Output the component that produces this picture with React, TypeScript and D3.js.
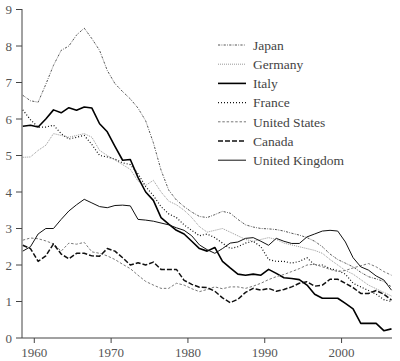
import React from "react";
import * as d3 from "d3";

const years: number[] = d3.range(1958, 2007);

const japan = [6.65,6.5,6.46,6.95,7.47,7.88,8.0,8.3,8.49,8.2,7.88,7.33,6.97,6.75,6.55,6.3,5.95,5.35,4.6,4.05,3.78,3.6,3.45,3.33,3.3,3.38,3.47,3.42,3.25,3.1,3.04,3.0,2.99,2.97,2.93,2.87,2.82,2.75,2.65,2.5,2.3,2.15,2.05,1.95,1.8,1.68,1.62,1.55,1.4];
const germany = [4.95,4.96,5.14,5.28,5.6,5.55,5.5,5.55,5.6,5.5,5.14,5.0,4.88,4.75,4.62,4.3,4.18,4.32,4.0,3.75,3.65,3.5,3.3,3.05,2.9,2.95,3.0,2.9,2.8,2.7,2.65,2.7,2.75,2.7,2.6,2.55,2.5,2.45,2.4,2.32,2.15,2.0,1.85,1.75,1.6,1.45,1.35,1.25,1.15];
const italy = [5.8,5.83,5.78,6.0,6.25,6.17,6.31,6.24,6.33,6.3,5.87,5.65,5.25,4.87,4.89,4.4,4.0,3.77,3.3,3.12,2.95,2.85,2.65,2.45,2.38,2.48,2.1,1.92,1.75,1.72,1.75,1.72,1.88,1.77,1.65,1.63,1.6,1.45,1.2,1.09,1.09,1.09,0.95,0.8,0.4,0.4,0.4,0.2,0.25];
const france = [6.25,5.98,5.78,5.78,5.83,5.6,5.45,5.5,5.55,5.3,5.0,4.96,4.9,4.8,4.75,4.5,4.15,3.9,3.6,3.4,3.3,3.1,2.95,2.8,2.85,2.75,2.6,2.45,2.5,2.6,2.65,2.5,2.15,2.1,2.1,2.05,2.1,2.2,2.0,2.0,1.9,1.85,1.75,1.5,1.4,1.3,1.2,1.05,1.0];
const unitedStates = [2.68,2.74,2.72,2.66,2.58,2.38,2.6,2.57,2.62,2.36,2.32,2.25,2.15,2.02,1.9,1.72,1.55,1.45,1.36,1.36,1.5,1.45,1.35,1.27,1.33,1.4,1.35,1.4,1.4,1.36,1.42,1.5,1.6,1.68,1.74,1.82,1.9,2.0,2.02,1.95,1.88,1.82,1.85,1.92,1.98,2.04,1.95,1.82,1.72];
const canada = [2.54,2.45,2.1,2.25,2.58,2.3,2.17,2.32,2.32,2.25,2.24,2.45,2.38,2.2,2.0,2.06,2.0,2.08,1.88,1.88,1.88,1.58,1.47,1.39,1.38,1.28,1.1,0.97,1.06,1.25,1.36,1.31,1.36,1.28,1.33,1.4,1.5,1.54,1.42,1.45,1.61,1.61,1.5,1.38,1.22,1.22,1.3,1.2,1.04];
const unitedKingdom = [2.38,2.5,2.85,3.0,3.0,3.25,3.48,3.65,3.8,3.7,3.6,3.57,3.63,3.64,3.62,3.25,3.23,3.2,3.15,3.1,3.02,2.95,2.8,2.55,2.42,2.32,2.45,2.6,2.63,2.73,2.75,2.65,2.54,2.73,2.65,2.59,2.59,2.77,2.85,2.93,2.95,2.93,2.63,2.2,1.95,1.86,1.7,1.59,1.31];

const seriesNames = ["Japan","Germany","Italy","France","United States","Canada","United Kingdom"];
const seriesValues = [japan, germany, italy, france, unitedStates, canada, unitedKingdom];

const xTicks = [1960, 1970, 1980, 1990, 2000];
const yTicks = [0,1,2,3,4,5,6,7,8,9];

const styles = [
  { stroke: "#555", width: 1, dash: "2.2,1.3,0.8,1.3" },
  { stroke: "#999", width: 1, dash: "1,1" },
  { stroke: "#000", width: 1.6, dash: "" },
  { stroke: "#111", width: 1.2, dash: "1,2" },
  { stroke: "#777", width: 1, dash: "2.5,1.8" },
  { stroke: "#111", width: 1.5, dash: "5,2" },
  { stroke: "#111", width: 1, dash: "" },
];

export default function App() {
  const W = 400, H = 361;
  const x = d3.scaleLinear().domain([1958.4, 2006.5]).range([22, 391.5]);
  const y = d3.scaleLinear().domain([0, 9]).range([338, 9.5]);
  const line = d3.line<number>().x((_, i) => x(years[i] + 0.5)).y((d) => y(d));
  const font = "'Liberation Serif', 'Times New Roman', serif";
  const legendY0 = 45, legendStep = 19.2;
  return (
    <svg width={W} height={H} style={{ position: "absolute", left: 0, top: 0, background: "#fff" }}>
      <g>
        {seriesValues.map((vals, i) => (
          <path key={i} d={line(vals) || ""} fill="none" stroke={styles[i].stroke}
            strokeWidth={styles[i].width} strokeDasharray={styles[i].dash} strokeLinejoin="round" />
        ))}
      </g>
      <line x1={22} x2={22} y1={9} y2={338} stroke="#444" strokeWidth={1} />
      <line x1={22} x2={392} y1={338} y2={338} stroke="#444" strokeWidth={1} />
      {yTicks.map((t) => (
        <g key={t}>
          <line x1={16} x2={22} y1={y(t)} y2={y(t)} stroke="#444" />
          <text x={12} y={y(t)} dy="0.35em" textAnchor="end" fontFamily={font} fontSize={13} fill="#555">{t}</text>
        </g>
      ))}
      {xTicks.map((t) => (
        <g key={t}>
          <line x1={x(t)} x2={x(t)} y1={338} y2={343} stroke="#444" />
          <text x={x(t)} y={357} textAnchor="middle" fontFamily={font} fontSize={13} fill="#555">{t}</text>
        </g>
      ))}
      {seriesNames.map((n, i) => (
        <g key={n}>
          <line x1={218} x2={246} y1={legendY0 + i * legendStep} y2={legendY0 + i * legendStep}
            stroke={styles[i].stroke} strokeWidth={styles[i].width} strokeDasharray={styles[i].dash} />
          <text x={253} y={legendY0 + i * legendStep} dy="0.35em" fontFamily={font} fontSize={13.5} fill="#444">{n}</text>
        </g>
      ))}
    </svg>
  );
}
